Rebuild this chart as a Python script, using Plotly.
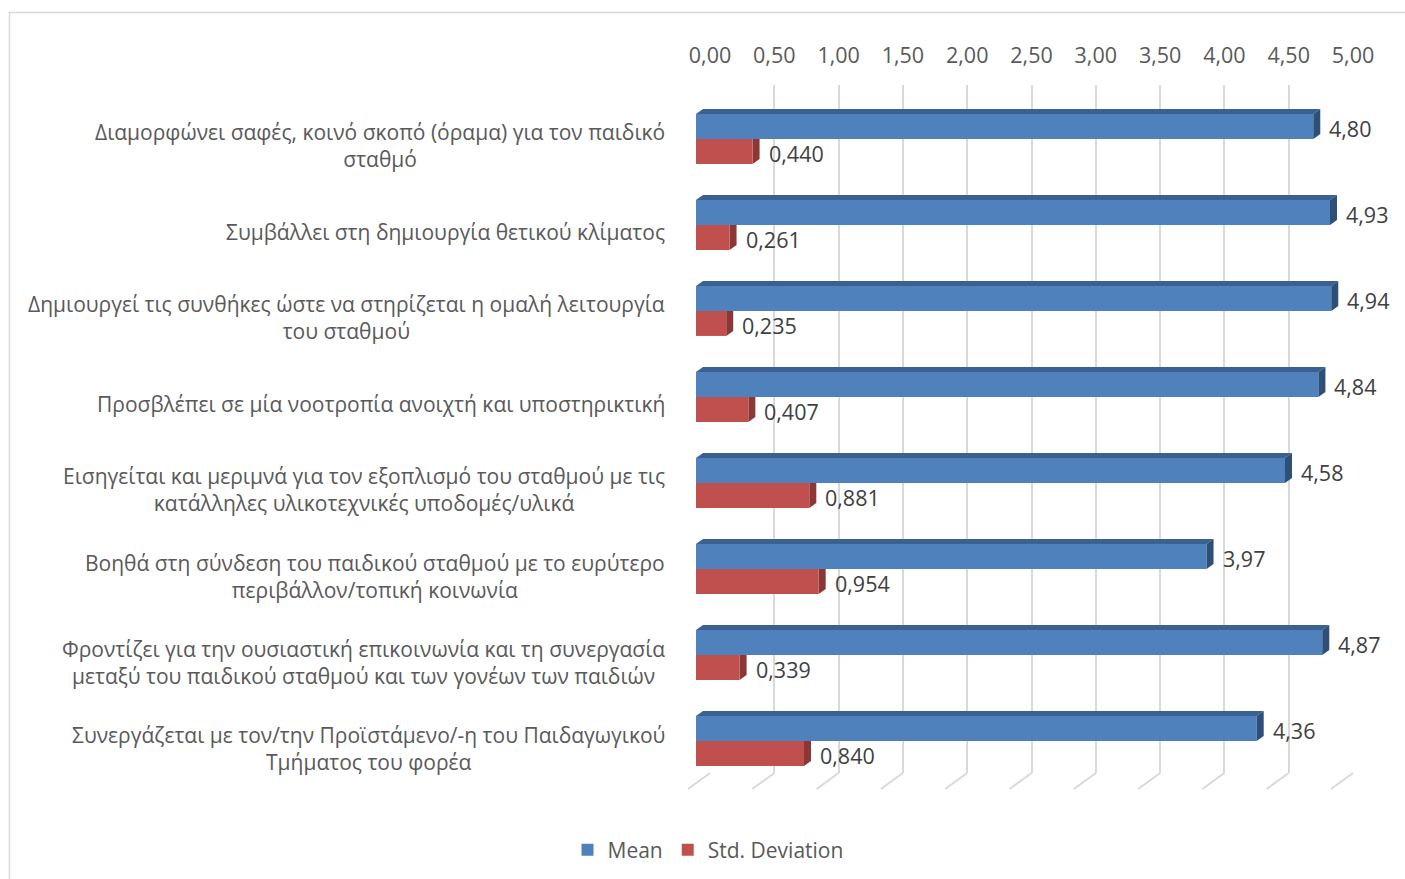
import plotly.graph_objects as go

# Survey items (Greek), in display order from top to bottom
categories = [
    "Διαμορφώνει σαφές, κοινό σκοπό (όραμα) για τον παιδικό<br>σταθμό",
    "Συμβάλλει στη δημιουργία θετικού κλίματος",
    "Δημιουργεί τις συνθήκες ώστε να στηρίζεται η ομαλή λειτουργία<br>του σταθμού",
    "Προσβλέπει σε μία νοοτροπία ανοιχτή και υποστηρικτική",
    "Εισηγείται και μεριμνά για τον εξοπλισμό του σταθμού με τις<br>κατάλληλες υλικοτεχνικές υποδομές/υλικά",
    "Βοηθά στη σύνδεση του παιδικού σταθμού με το ευρύτερο<br>περιβάλλον/τοπική κοινωνία",
    "Φροντίζει για την ουσιαστική επικοινωνία και τη συνεργασία<br>μεταξύ του παιδικού σταθμού και των γονέων των παιδιών",
    "Συνεργάζεται με τον/την Προϊστάμενο/-η του Παιδαγωγικού<br>Τμήματος του φορέα",
]
mean_values = [4.80, 4.93, 4.94, 4.84, 4.58, 3.97, 4.87, 4.36]
std_values = [0.440, 0.261, 0.235, 0.407, 0.881, 0.954, 0.339, 0.840]
tick_values = [0.0, 0.5, 1.0, 1.5, 2.0, 2.5, 3.0, 3.5, 4.0, 4.5, 5.0]
x_max = 5.0

W, H = 1405, 879
FONT = "Open Sans"
TEXT_GREY = "#595959"
LABEL_GREY = "#404040"
GRID = "#D9D9D9"
BLUE, BLUE_TOP, BLUE_SIDE = "#4F81BD", "#3A6192", "#2E4F78"
RED, RED_SIDE = "#C0504D", "#8A3735"

# plot geometry (pixels)
FRONT_X0, UNIT_PX = 696, 128.6
BACK_X0 = 710
FRONT_Y0, FRONT_Y1 = 96, 784
BACK_Y0, BACK_Y1 = 85, 773
BAR_GAP = 0.42
DEPTH_X_PX, DEPTH_Y_PX = 7, 5

row_px = (FRONT_Y1 - FRONT_Y0) / len(categories)
bar_w = (1 - BAR_GAP) / 2
dx = DEPTH_X_PX / UNIT_PX
dy = DEPTH_Y_PX / row_px
idx = list(range(len(categories)))

fig = go.Figure()

# back wall subplot (gridlines and top tick labels)
fig.add_trace(go.Scatter(x=[], y=[], xaxis="x", yaxis="y", showlegend=False, hoverinfo="skip"))

# front bars
fig.add_trace(go.Bar(
    x=mean_values, y=idx, orientation="h", name="Mean",
    marker=dict(color=BLUE, line=dict(width=0)),
    xaxis="x2", yaxis="y2", hoverinfo="x",
))
fig.add_trace(go.Bar(
    x=std_values, y=idx, orientation="h", name="Std. Deviation",
    marker=dict(color=RED, line=dict(width=0)),
    xaxis="x2", yaxis="y2", hoverinfo="x",
))

shapes = []
annotations = []

# floor lines running from the wall base towards the viewer
for t in tick_values:
    shapes.append(dict(
        type="path", xref="x domain", yref="y domain",
        xsizemode="pixel", ysizemode="pixel",
        xanchor=t / x_max, yanchor=0, path="M0,0 L-22,-16",
        line=dict(color=GRID, width=2), layer="below",
    ))

for i, (m, s) in enumerate(zip(mean_values, std_values)):
    top = i - bar_w
    # top face of the mean bar
    shapes.append(dict(
        type="path", xref="x2", yref="y2",
        path=f"M0,{top} L{m},{top} L{m + dx},{top - dy} L{dx},{top - dy} Z",
        fillcolor=BLUE_TOP, line=dict(width=0), layer="above",
    ))
    # right face of the mean bar
    shapes.append(dict(
        type="path", xref="x2", yref="y2",
        path=f"M{m},{top} L{m + dx},{top - dy} L{m + dx},{i - dy} L{m},{i} Z",
        fillcolor=BLUE_SIDE, line=dict(width=0), layer="above",
    ))
    # right face of the std bar (partly hidden behind the mean bar)
    shapes.append(dict(
        type="path", xref="x2", yref="y2",
        path=f"M{s},{i} L{s + dx},{i - dy} L{s + dx},{i + bar_w - dy} L{s},{i + bar_w} Z",
        fillcolor=RED_SIDE, line=dict(width=0), layer="below",
    ))
    # value labels
    annotations.append(dict(
        x=m, y=i - bar_w / 2, xref="x2", yref="y2", xanchor="left", yanchor="middle",
        xshift=14, yshift=-2, showarrow=False,
        text=f"{m:.2f}".replace(".", ","),
        font=dict(family=FONT, size=21.5, color=LABEL_GREY),
    ))
    annotations.append(dict(
        x=s, y=i + bar_w / 2, xref="x2", yref="y2", xanchor="left", yanchor="middle",
        xshift=14, yshift=-2, showarrow=False,
        text=f"{s:.3f}".replace(".", ","),
        font=dict(family=FONT, size=21.5, color=LABEL_GREY),
    ))
    # category label
    annotations.append(dict(
        x=667 / W, y=i, xref="paper", yref="y2", xanchor="right", yanchor="middle",
        yshift=-7, showarrow=False, align="center",
        text=categories[i],
        font=dict(family=FONT, size=21, color=TEXT_GREY),
    ))

# outer chart border
shapes.append(dict(
    type="rect", xref="paper", yref="paper",
    x0=9.5 / W, x1=1.05, y0=-0.05, y1=1 - 12.5 / H,
    line=dict(color=GRID, width=1.5), fillcolor="rgba(0,0,0,0)", layer="below",
))

fig.update_layout(
    width=W, height=H,
    margin=dict(l=0, r=0, t=0, b=0, autoexpand=False),
    paper_bgcolor="white", plot_bgcolor="rgba(0,0,0,0)",
    separators=",.",
    barmode="group", bargap=BAR_GAP, bargroupgap=0,
    font=dict(family=FONT, color=TEXT_GREY),
    xaxis=dict(
        domain=[BACK_X0 / W, (BACK_X0 + x_max * UNIT_PX) / W], range=[0, x_max],
        side="top", anchor="y", tickvals=tick_values, tickformat=".2f",
        showgrid=True, gridcolor=GRID, gridwidth=2,
        zeroline=False, showline=False,
        ticks="outside", ticklen=12, tickcolor="rgba(0,0,0,0)",
        tickfont=dict(family=FONT, size=21.5, color=TEXT_GREY),
        fixedrange=True,
    ),
    yaxis=dict(
        domain=[1 - BACK_Y1 / H, 1 - BACK_Y0 / H], range=[0, 1],
        anchor="x", visible=False, fixedrange=True,
    ),
    xaxis2=dict(
        domain=[FRONT_X0 / W, (FRONT_X0 + x_max * UNIT_PX) / W], range=[0, x_max],
        anchor="y2", visible=False, fixedrange=True,
    ),
    yaxis2=dict(
        domain=[1 - FRONT_Y1 / H, 1 - FRONT_Y0 / H],
        range=[len(categories) - 0.5, -0.5],
        anchor="x2", visible=False, fixedrange=True,
    ),
    legend=dict(
        orientation="h", x=708 / W, xanchor="center", y=1 - 850 / H, yanchor="middle",
        font=dict(family=FONT, size=21, color=TEXT_GREY),
        itemclick=False, itemdoubleclick=False,
    ),
    shapes=shapes,
    annotations=annotations,
)

fig.write_html("out.html")
